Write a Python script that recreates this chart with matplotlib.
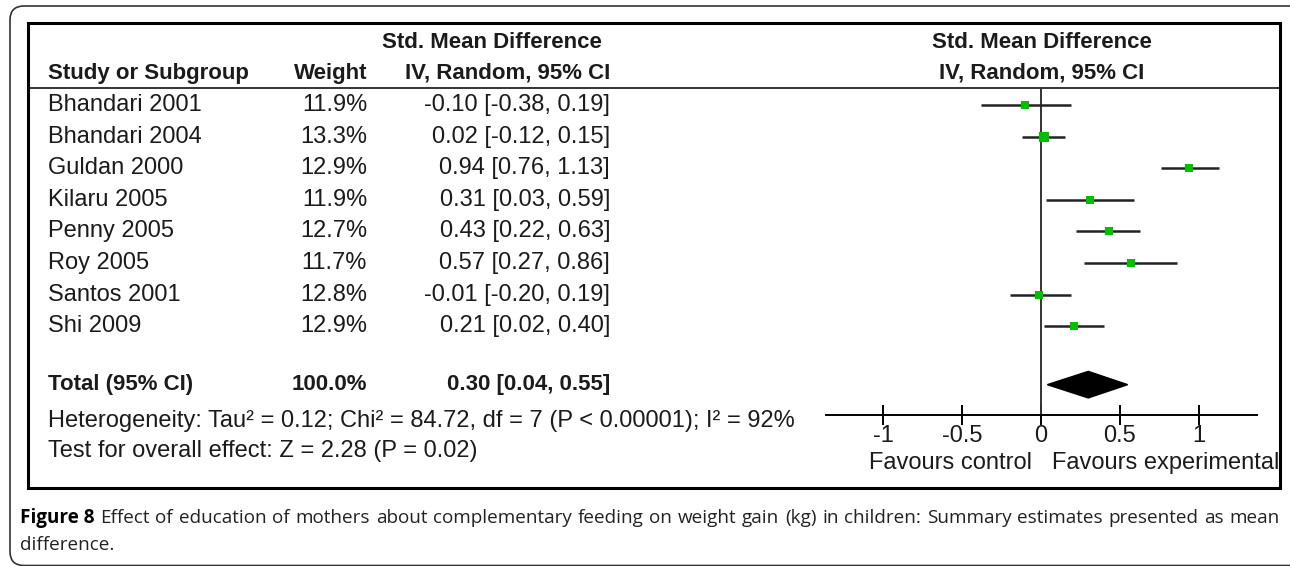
import matplotlib.pyplot as plt
import matplotlib.transforms as mtransforms
from matplotlib.patches import Rectangle, FancyBboxPatch, Polygon

studies = ['Bhandari 2001', 'Bhandari 2004', 'Guldan 2000', 'Kilaru 2005',
           'Penny 2005', 'Roy 2005', 'Santos 2001', 'Shi 2009']
weights = [11.9, 13.3, 12.9, 11.9, 12.7, 11.7, 12.8, 12.9]
smd = [-0.10, 0.02, 0.94, 0.31, 0.43, 0.57, -0.01, 0.21]
lower = [-0.38, -0.12, 0.76, 0.03, 0.22, 0.27, -0.20, 0.02]
upper = [0.19, 0.15, 1.13, 0.59, 0.63, 0.86, 0.19, 0.40]
total_weight = 100.0
total_smd, total_lo, total_hi = 0.30, 0.04, 0.55
ticks = [-1, -0.5, 0, 0.5, 1]
tick_labels = ['-1', '-0.5', '0', '0.5', '1']

body = 'Liberation Sans'
ink = '#1b1b1b'
fs = 17

W, H = 1290, 566
fig = plt.figure(figsize=(W / 100, H / 100), dpi=100)
bg = fig.add_axes([0, 0, 1, 1])
bg.set_xlim(0, W)
bg.set_ylim(H, 0)
bg.axis('off')

# forest plot axes, placed in pixels
fx0, fx1, fy0, fy1 = 826, 1257, 88, 415
ax = fig.add_axes([fx0 / W, 1 - fy1 / H, (fx1 - fx0) / W, (fy1 - fy0) / H])
ax.set_xlim(-1.365, 1.371)
row0, step = 105, 31.6
ax.set_ylim((fy1 - row0) / step, (fy0 - row0) / step)
ax.patch.set_alpha(0)
for s in ['top', 'left', 'right']:
    ax.spines[s].set_visible(False)
ax.spines['bottom'].set_linewidth(1.4)
ax.set_yticks([])
ax.set_xticks(ticks)
ax.set_xticklabels(tick_labels, fontfamily=body, fontsize=fs, color=ink)
ax.tick_params(axis='x', direction='inout', length=14, width=1.4, pad=0)
ax.axvline(0, color='#333333', lw=1.4)

ys = list(range(len(studies)))
total_y = 8.85
for y, m, lo, hi, w in zip(ys, smd, lower, upper, weights):
    ax.plot([lo, hi], [y, y], color='#222222', lw=1.8, solid_capstyle='butt')
    ax.plot(m, y, 's', color='#00c000', markersize=w * 0.5, markeredgewidth=0)
ax.add_patch(Polygon([[total_lo, total_y], [total_smd, total_y - 0.42],
                      [total_hi, total_y], [total_smd, total_y + 0.42]],
                     closed=True, color='black'))

# table columns
tr = mtransforms.blended_transform_factory(bg.transData, ax.transData)
for y, name, w, m, lo, hi in zip(ys, studies, weights, smd, lower, upper):
    bg.text(48, y, name, transform=tr, ha='left', va='center', fontsize=fs, family=body, color=ink)
    bg.text(367, y, f'{w:.1f}%', transform=tr, ha='right', va='center', fontsize=fs, family=body, color=ink)
    bg.text(610, y, f'{m:.2f} [{lo:.2f}, {hi:.2f}]', transform=tr, ha='right', va='center',
            fontsize=fs, family=body, color=ink)

bold = dict(fontsize=16, family=body, fontweight='bold', color=ink, va='center')
bg.text(48, total_y, 'Total (95% CI)', transform=tr, ha='left', **bold)
bg.text(367, total_y, f'{total_weight:.1f}%', transform=tr, ha='right', **bold)
bg.text(610, total_y, f'{total_smd:.2f} [{total_lo:.2f}, {total_hi:.2f}]', transform=tr, ha='right', **bold)

bg.text(492, 43, 'Std. Mean Difference', ha='center', **bold)
bg.text(48, 73, 'Study or Subgroup', ha='left', **bold)
bg.text(367, 73, 'Weight', ha='right', **bold)
bg.text(610, 73, 'IV, Random, 95% CI', ha='right', **bold)
bg.text(1042, 43, 'Std. Mean Difference', ha='center', **bold)
bg.text(1042, 73, 'IV, Random, 95% CI', ha='center', **bold)

bg.text(48, 421, 'Heterogeneity: Tau\u00b2 = 0.12; Chi\u00b2 = 84.72, df = 7 (P < 0.00001); I\u00b2 = 92%',
        ha='left', va='center', fontsize=fs, family=body, color=ink)
bg.text(48, 451, 'Test for overall effect: Z = 2.28 (P = 0.02)',
        ha='left', va='center', fontsize=fs, family=body, color=ink)

bg.add_patch(Rectangle((28, 23), 1252, 465, fill=False, lw=2.2, ec='black', zorder=5))
bg.plot([28, 1280], [88, 88], color='#333333', lw=1.4)

bg.text(1032, 463, 'Favours control', ha='right', va='center', fontsize=fs, family=body, color=ink)
fe = bg.text(1052, 463, 'Favours experimental', ha='left', va='center', fontsize=fs, family=body, color=ink)
fe.set_clip_path(Rectangle((28, 23), 1250, 465, transform=bg.transData))

# outer rounded frame, runs off the right and bottom edges
bg.add_patch(FancyBboxPatch((10, 6), 1320, 559.5, boxstyle='round,pad=0,rounding_size=14',
                            fill=False, lw=1.2, ec='#333333', clip_on=False))

# caption, first line justified to the frame width
cap_fs = 13.6
line1 = ('Effect of education of mothers about complementary feeding on weight gain (kg) '
         'in children: Summary estimates presented as mean').split()
inv = bg.transData.inverted()


def width_of(t):
    bb = t.get_window_extent()
    return inv.transform((bb.x1, 0))[0] - inv.transform((bb.x0, 0))[0]


head = bg.text(20, 518, 'Figure 8', ha='left', va='center', fontsize=cap_fs, family='Open Sans',
               fontweight='bold', color='black')
words = [bg.text(0, 518, w, ha='left', va='center', fontsize=cap_fs, family='Open Sans', color='#222222')
         for w in line1]
fig.canvas.draw()
widths = [width_of(t) for t in words]
start = 20 + width_of(head)
gap = (1280 - start - sum(widths)) / len(words)
x = start + gap
for t, wd in zip(words, widths):
    t.set_x(x)
    x += wd + gap
bg.text(20, 545, 'difference.', ha='left', va='center', fontsize=cap_fs, family='Open Sans', color='#222222')

fig.savefig('out.png', dpi=100)
